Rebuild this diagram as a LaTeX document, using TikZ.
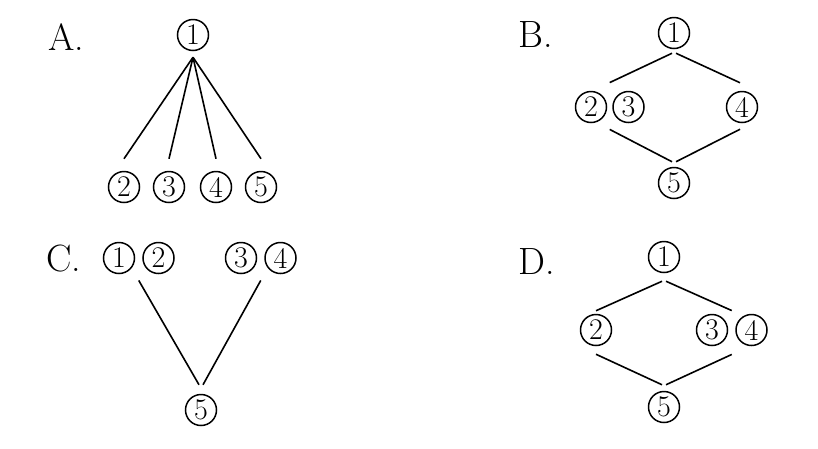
\documentclass[tikz,border=0pt]{standalone}
\usepackage{fontspec}
\usetikzlibrary{positioning,fit}

\begin{document}
\begin{tikzpicture}[
  x=1pt, y=-1pt,
  num/.style={circle, draw, line width=1.5pt, minimum size=31pt, inner sep=0pt, font=\fontsize{30}{34}\selectfont},
  lbl/.style={font=\fontsize{38}{44}\selectfont},
  grp/.style={inner sep=0pt},
  edge/.style={line width=1.6pt}
]
\useasboundingbox (0,0) rectangle (818,448);

% A
\node[lbl] (la) at (66,37) {A.};
\node[num] (a1) at (193,35) {1};
\node[num] (a2) at (124,187) {2};
\node[num] (a3) at (169,187) {3};
\node[num] (a4) at (216,187) {4};
\node[num] (a5) at (261,187) {5};
\foreach \n in {2,...,5}
  \draw[edge] ([yshift=-6pt]a1.south) -- ([yshift=12pt]a\n.north);

% B
\node[lbl] (lb) at (536,35) {B.};
\node[num] (b1) at (674,33) {1};
\node[num] (b2) at (591,107) {2};
\node[num, right=5pt of b2] (b3) {3};
\node[num] (b4) at (742,107) {4};
\node[num] (b5) at (674,183) {5};
\node[grp, fit=(b2)(b3)] (b23) {};
\draw[edge] ([xshift=-2pt,yshift=-4pt]b1.south) -- ([yshift=8pt]b23.north);
\draw[edge] ([xshift=2pt,yshift=-4pt]b1.south) -- ([xshift=-2pt,yshift=8pt]b4.north);
\draw[edge] ([yshift=-6pt]b23.south) -- ([xshift=-2pt,yshift=5pt]b5.north);
\draw[edge] ([xshift=-2pt,yshift=-6pt]b4.south) -- ([xshift=2pt,yshift=5pt]b5.north);

% C
\node[lbl] (lc) at (64,259) {C.};
\node[num] (c1) at (119,258) {1};
\node[num, right=7pt of c1] (c2) {2};
\node[num] (c3) at (241,258) {3};
\node[num, right=7pt of c3] (c4) {4};
\node[num] (c5) at (201,410) {5};
\node[grp, fit=(c1)(c2)] (c12) {};
\node[grp, fit=(c3)(c4)] (c34) {};
\draw[edge] ([yshift=-6pt]c12.south) -- ([xshift=-2pt,yshift=9pt]c5.north);
\draw[edge] ([yshift=-6pt]c34.south) -- ([xshift=2pt,yshift=9pt]c5.north);

% D
\node[lbl] (ld) at (537,262) {D.};
\node[num] (d1) at (664,257) {1};
\node[num] (d2) at (596,330) {2};
\node[num] (d3) at (712,330) {3};
\node[num, right=7pt of d3] (d4) {4};
\node[num] (d5) at (664,407) {5};
\node[grp, fit=(d3)(d4)] (d34) {};
\draw[edge] ([xshift=-2pt,yshift=-8pt]d1.south) -- ([yshift=3pt]d2.north);
\draw[edge] ([xshift=2pt,yshift=-8pt]d1.south) -- ([yshift=3pt]d34.north);
\draw[edge] ([yshift=-8pt]d2.south) -- ([xshift=-2pt,yshift=6pt]d5.north);
\draw[edge] ([yshift=-8pt]d34.south) -- ([xshift=2pt,yshift=6pt]d5.north);

\end{tikzpicture}
\end{document}
